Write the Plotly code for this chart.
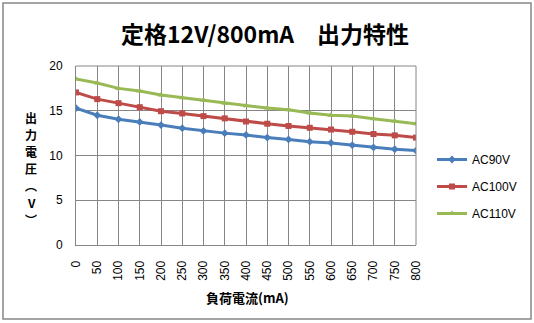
import plotly.graph_objects as go

current_ma = [0, 50, 100, 150, 200, 250, 300, 350, 400, 450, 500, 550, 600, 650, 700, 750, 800]
ac90 = [15.3, 14.5, 14.05, 13.75, 13.4, 13.05, 12.75, 12.5, 12.3, 12.0, 11.8, 11.55, 11.4, 11.15, 10.9, 10.7, 10.55]
ac100 = [17.05, 16.3, 15.85, 15.4, 14.95, 14.7, 14.4, 14.15, 13.8, 13.55, 13.3, 13.1, 12.9, 12.65, 12.4, 12.25, 12.0]
ac110 = [18.55, 18.1, 17.5, 17.2, 16.75, 16.45, 16.2, 15.85, 15.55, 15.3, 15.1, 14.75, 14.5, 14.4, 14.1, 13.85, 13.55]
series_names = ["AC90V", "AC100V", "AC110V"]
colors = ["#4A7EBB", "#BE4B48", "#98B954"]
symbols = ["diamond", "square", "triangle-up"]
y_ticks = [0, 5, 10, 15, 20]
title_text = "定格12V/800mA　出力特性"
x_title = "負荷電流(mA)"
y_title_chars = ["出", "力", "電", "圧", "︵", "V", "︶"]

FONT = "Noto Sans CJK JP, Liberation Sans, sans-serif"
LATIN = "Liberation Sans, sans-serif"

fig = go.Figure()
for name, vals, c, s in zip(series_names, [ac90, ac100, ac110], colors, symbols):
    fig.add_trace(go.Scatter(
        x=current_ma, y=vals, name=name, mode="lines+markers", legendgroup=name,
        line=dict(color=c, width=3),
        marker=dict(symbol=s, size=6, color=c),
    ))

W, H = 534, 323
L, R, T, B = 76, 118, 66, 78
pw, ph = W - L - R, H - T - B

def px(x):
    return (x - L) / pw

def py(y):
    return (H - B - y) / ph

fig.update_layout(
    width=W, height=H,
    margin=dict(l=L, r=R, t=T, b=B),
    paper_bgcolor="white", plot_bgcolor="white",
    font=dict(family=FONT, size=11, color="#000000"),
    showlegend=True,
    legend=dict(x=px(432), y=py(145), xanchor="left", yanchor="top",
                font=dict(size=12, family=LATIN),
                tracegroupgap=8, itemwidth=30, bgcolor="rgba(0,0,0,0)"),
    xaxis=dict(range=[0, 800], tickmode="array", tickvals=current_ma,
               ticktext=[str(v) for v in current_ma], tickangle=-90,
               showgrid=True, gridcolor="#868686", gridwidth=1,
               showline=True, linecolor="#868686", linewidth=1,
               ticks="", zeroline=False, ticklabelstandoff=10,
               tickfont=dict(size=12, family=LATIN)),
    yaxis=dict(range=[0, 20], tickmode="array", tickvals=y_ticks,
               showgrid=True, gridcolor="#868686", gridwidth=1,
               showline=True, linecolor="#868686", linewidth=1,
               ticks="", zeroline=False, mirror=False, ticklabelstandoff=10,
               tickfont=dict(size=12, family=LATIN)),
    shapes=[
        dict(type="rect", xref="paper", yref="paper",
             x0=px(3), x1=px(531), y0=py(319), y1=py(3),
             line=dict(color="#868686", width=1.5), layer="below"),
        dict(type="line", xref="paper", yref="paper",
             x0=1, x1=1, y0=0, y1=1, line=dict(color="#868686", width=1)),
        dict(type="line", xref="paper", yref="paper",
             x0=0, x1=1, y0=1, y1=1, line=dict(color="#868686", width=1)),
    ],
)

ann = [
    dict(text=f"<b>{title_text}</b>", x=px(265), y=py(33), xref="paper", yref="paper",
         showarrow=False, font=dict(size=23, family=FONT), xanchor="center", yanchor="middle"),
    dict(text=f"<b>{x_title}</b>", x=px(247), y=py(297), xref="paper", yref="paper",
         showarrow=False, font=dict(size=13, family=FONT), xanchor="center", yanchor="middle"),
]
y_title_pos = [117, 134, 151, 168, 185, 202, 219]
for ch, yy in zip(y_title_chars, y_title_pos):
    ann.append(dict(text=f"<b>{ch}</b>", x=px(31), y=py(yy), xref="paper", yref="paper",
                    showarrow=False, font=dict(size=12, family=FONT),
                    xanchor="center", yanchor="middle"))
fig.update_layout(annotations=ann)

fig.write_html("out.html")
